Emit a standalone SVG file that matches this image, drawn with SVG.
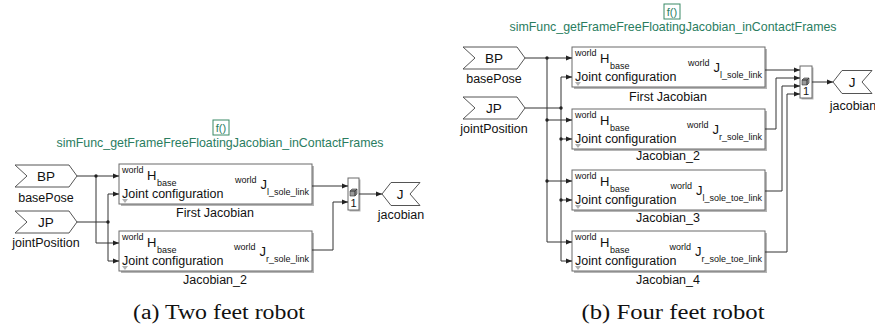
<svg xmlns="http://www.w3.org/2000/svg" width="875" height="330" viewBox="0 0 875 330">
<defs>
<style>
text{font-family:"Liberation Sans",Arial,sans-serif;fill:#111}
.lbl{font-size:12.5px}
.tag{font-size:13.5px}
.sup{font-size:9px}
.big{font-size:13px}
.title{font-size:12.4px;fill:#2a7d5f;text-anchor:middle}
.fn{font-size:11px;fill:#2a7d5f;text-anchor:middle}
.fnbox{fill:#fff;stroke:#3a8a66;stroke-width:1}
.shadow{fill:#b5b5b5}
.box{fill:#fff;stroke:#6a6a6a;stroke-width:1}
.tagshape{fill:#fff;stroke:#555;stroke-width:1}
.ind{fill:#b0b0b0}
.mid{text-anchor:middle}
.cap{font-family:"Liberation Serif","Times New Roman",serif;font-size:20px;text-anchor:middle}
.wire{fill:none;stroke:#333;stroke-width:1}
.arr{marker-end:url(#ah)}
.dot{fill:#222}
.cube{fill:#9a9a9a;stroke:#333;stroke-width:0.6}
</style>
<marker id="ah" viewBox="0 0 6 6" refX="6" refY="3" markerWidth="6" markerHeight="6" orient="auto" markerUnits="userSpaceOnUse">
<path d="M0,0.5 L6,3 L0,5.5 z" fill="#222"/>
</marker>
</defs>

<!-- ============ (a) Two feet robot ============ -->
<g id="a_title">
<rect class="fnbox" x="213" y="120" width="16" height="15"/>
<text class="fn" x="221" y="132">f()</text>
<text class="title" x="220" y="147">simFunc_getFrameFreeFloatingJacobian_inContactFrames</text>
</g>

<g id="a_basePose">
<polygon class="tagshape" points="15,165 69,165 77,176 69,187 15,187 27,176"/>
<text class="tag mid" x="46" y="181">BP</text>
<text class="lbl mid" x="46" y="202">basePose</text>
</g>
<g id="a_jointPosition">
<polygon class="tagshape" points="15,211 69,211 77,222 69,233 15,233 27,222"/>
<text class="tag mid" x="46" y="227">JP</text>
<text class="lbl mid" x="46" y="247">jointPosition</text>
</g>

<g id="a_first_jacobian">
<rect class="shadow" x="121" y="166" width="193" height="40"/>
<rect class="box" x="119" y="164" width="193" height="40"/>
<text class="sup" x="122" y="173">world</text>
<text class="big" x="147" y="180">H</text>
<text class="sup" x="157" y="186">base</text>
<text class="lbl" x="122" y="198">Joint configuration</text>
<path class="ind" d="M122,199 h6 l-3,4 z"/>
<text x="309" y="183" text-anchor="end"><tspan class="sup">world</tspan><tspan class="big" dx="4" dy="6">J</tspan><tspan class="sup" dy="6">l_sole_link</tspan></text>
<text class="lbl mid" x="215" y="217">First Jacobian</text>
</g>

<g id="a_jacobian_2">
<rect class="shadow" x="121" y="233" width="193" height="40"/>
<rect class="box" x="119" y="231" width="193" height="40"/>
<text class="sup" x="122" y="240">world</text>
<text class="big" x="147" y="247">H</text>
<text class="sup" x="157" y="253">base</text>
<text class="lbl" x="122" y="265">Joint configuration</text>
<path class="ind" d="M122,266 h6 l-3,4 z"/>
<text x="309" y="250" text-anchor="end"><tspan class="sup">world</tspan><tspan class="big" dx="4" dy="6">J</tspan><tspan class="sup" dy="6">r_sole_link</tspan></text>
<text class="lbl mid" x="215" y="284">Jacobian_2</text>
</g>

<g id="a_mux">
<rect class="shadow" x="349.5" y="179.5" width="11" height="32"/>
<rect class="box" x="348" y="178" width="11" height="32"/>
<path class="cube" d="M350,191 h5 v5 h-5 z M350,191 l2,-2 h5 l-2,2 z M355,191 l2,-2 v5 l-2,2 z"/>
<text class="mid" x="353.5" y="207" style="font-size:11px">1</text>
</g>

<g id="a_goto_jacobian">
<polygon class="tagshape" points="382,194 391,182.5 420,182.5 410,194 420,205.5 391,205.5"/>
<text class="tag mid" x="400" y="199">J</text>
<text class="lbl mid" x="401" y="219">jacobian</text>
</g>

<g id="a_connectors">
<path class="wire arr" d="M77,176 H119"/>
<path class="wire arr" d="M96,176 V243 H119"/>
<path class="wire" d="M77,222 H108"/>
<path class="wire arr" d="M108,194 H119"/>
<path class="wire arr" d="M108,194 V261 H119"/>
<circle class="dot" cx="96" cy="176" r="1.7"/>
<circle class="dot" cx="108" cy="222" r="1.7"/>
<path class="wire arr" d="M312,186 H348"/>
<path class="wire arr" d="M312,250 H333 V202 H348"/>
<path class="wire arr" d="M359,194 H382"/>
</g>

<!-- ============ (b) Four feet robot ============ -->
<g id="b_title">
<rect class="fnbox" x="664" y="4" width="16" height="15"/>
<text class="fn" x="672" y="16">f()</text>
<text class="title" x="673" y="31">simFunc_getFrameFreeFloatingJacobian_inContactFrames</text>
</g>

<g id="b_basePose">
<polygon class="tagshape" points="463,47 517,47 525,58 517,69 463,69 475,58"/>
<text class="tag mid" x="494" y="63">BP</text>
<text class="lbl mid" x="494" y="83">basePose</text>
</g>
<g id="b_jointPosition">
<polygon class="tagshape" points="463,97 517,97 525,108 517,119 463,119 475,108"/>
<text class="tag mid" x="494" y="113">JP</text>
<text class="lbl mid" x="494" y="133">jointPosition</text>
</g>

<g id="b_first_jacobian">
<rect class="shadow" x="574" y="49" width="193" height="40"/>
<rect class="box" x="572" y="47" width="193" height="40"/>
<text class="sup" x="575" y="56">world</text>
<text class="big" x="600" y="63">H</text>
<text class="sup" x="610" y="69">base</text>
<text class="lbl" x="575" y="81">Joint configuration</text>
<path class="ind" d="M575,82 h6 l-3,4 z"/>
<text x="762" y="66" text-anchor="end"><tspan class="sup">world</tspan><tspan class="big" dx="4" dy="6">J</tspan><tspan class="sup" dy="6">l_sole_link</tspan></text>
<text class="lbl mid" x="668" y="101">First Jacobian</text>
</g>

<g id="b_jacobian_2">
<rect class="shadow" x="574" y="111" width="193" height="40"/>
<rect class="box" x="572" y="109" width="193" height="40"/>
<text class="sup" x="575" y="118">world</text>
<text class="big" x="600" y="125">H</text>
<text class="sup" x="610" y="131">base</text>
<text class="lbl" x="575" y="143">Joint configuration</text>
<path class="ind" d="M575,144 h6 l-3,4 z"/>
<text x="762" y="128" text-anchor="end"><tspan class="sup">world</tspan><tspan class="big" dx="4" dy="6">J</tspan><tspan class="sup" dy="6">r_sole_link</tspan></text>
<text class="lbl mid" x="668" y="160">Jacobian_2</text>
</g>

<g id="b_jacobian_3">
<rect class="shadow" x="574" y="172" width="193" height="40"/>
<rect class="box" x="572" y="170" width="193" height="40"/>
<text class="sup" x="575" y="179">world</text>
<text class="big" x="600" y="186">H</text>
<text class="sup" x="610" y="192">base</text>
<text class="lbl" x="575" y="204">Joint configuration</text>
<path class="ind" d="M575,205 h6 l-3,4 z"/>
<text x="762" y="189" text-anchor="end"><tspan class="sup">world</tspan><tspan class="big" dx="4" dy="6">J</tspan><tspan class="sup" dy="6">l_sole_toe_link</tspan></text>
<text class="lbl mid" x="668" y="222">Jacobian_3</text>
</g>

<g id="b_jacobian_4">
<rect class="shadow" x="574" y="233" width="193" height="40"/>
<rect class="box" x="572" y="231" width="193" height="40"/>
<text class="sup" x="575" y="240">world</text>
<text class="big" x="600" y="247">H</text>
<text class="sup" x="610" y="253">base</text>
<text class="lbl" x="575" y="265">Joint configuration</text>
<path class="ind" d="M575,266 h6 l-3,4 z"/>
<text x="762" y="250" text-anchor="end"><tspan class="sup">world</tspan><tspan class="big" dx="4" dy="6">J</tspan><tspan class="sup" dy="6">r_sole_toe_link</tspan></text>
<text class="lbl mid" x="668" y="284">Jacobian_4</text>
</g>

<g id="b_mux">
<rect class="shadow" x="801.5" y="67.5" width="12" height="32"/>
<rect class="box" x="800" y="66" width="12" height="32"/>
<path class="cube" d="M802,80 h5 v5 h-5 z M802,80 l2,-2 h5 l-2,2 z M807,80 l2,-2 v5 l-2,2 z"/>
<text class="mid" x="806" y="95" style="font-size:11px">1</text>
</g>

<g id="b_goto_jacobian">
<polygon class="tagshape" points="833,82 842,70.5 872,70.5 862,82 872,93.5 842,93.5"/>
<text class="tag mid" x="852" y="87">J</text>
<text class="lbl mid" x="853" y="110">jacobian</text>
</g>

<g id="b_connectors">
<path class="wire arr" d="M525,58 H572"/>
<path class="wire arr" d="M547,58 V242 H572"/>
<path class="wire arr" d="M547,120 H572"/>
<path class="wire arr" d="M547,181 H572"/>
<path class="wire" d="M525,108 H561"/>
<path class="wire arr" d="M561,77 H572"/>
<path class="wire arr" d="M561,77 V261 H572"/>
<path class="wire arr" d="M561,139 H572"/>
<path class="wire arr" d="M561,200 H572"/>
<circle class="dot" cx="547" cy="58" r="1.7"/>
<circle class="dot" cx="547" cy="120" r="1.7"/>
<circle class="dot" cx="547" cy="181" r="1.7"/>
<circle class="dot" cx="561" cy="108" r="1.7"/>
<circle class="dot" cx="561" cy="139" r="1.7"/>
<circle class="dot" cx="561" cy="200" r="1.7"/>
<path class="wire arr" d="M765,70 H800"/>
<path class="wire arr" d="M765,129 H776 V78 H800"/>
<path class="wire arr" d="M765,191 H782 V86 H800"/>
<path class="wire arr" d="M765,252 H787 V94 H800"/>
<path class="wire arr" d="M812,82 H833"/>
</g>

<g id="captions">
<text class="cap" x="219" y="319" textLength="172" lengthAdjust="spacingAndGlyphs">(a) Two feet robot</text>
<text class="cap" x="673" y="319" textLength="183" lengthAdjust="spacingAndGlyphs">(b) Four feet robot</text>
</g>
</svg>
